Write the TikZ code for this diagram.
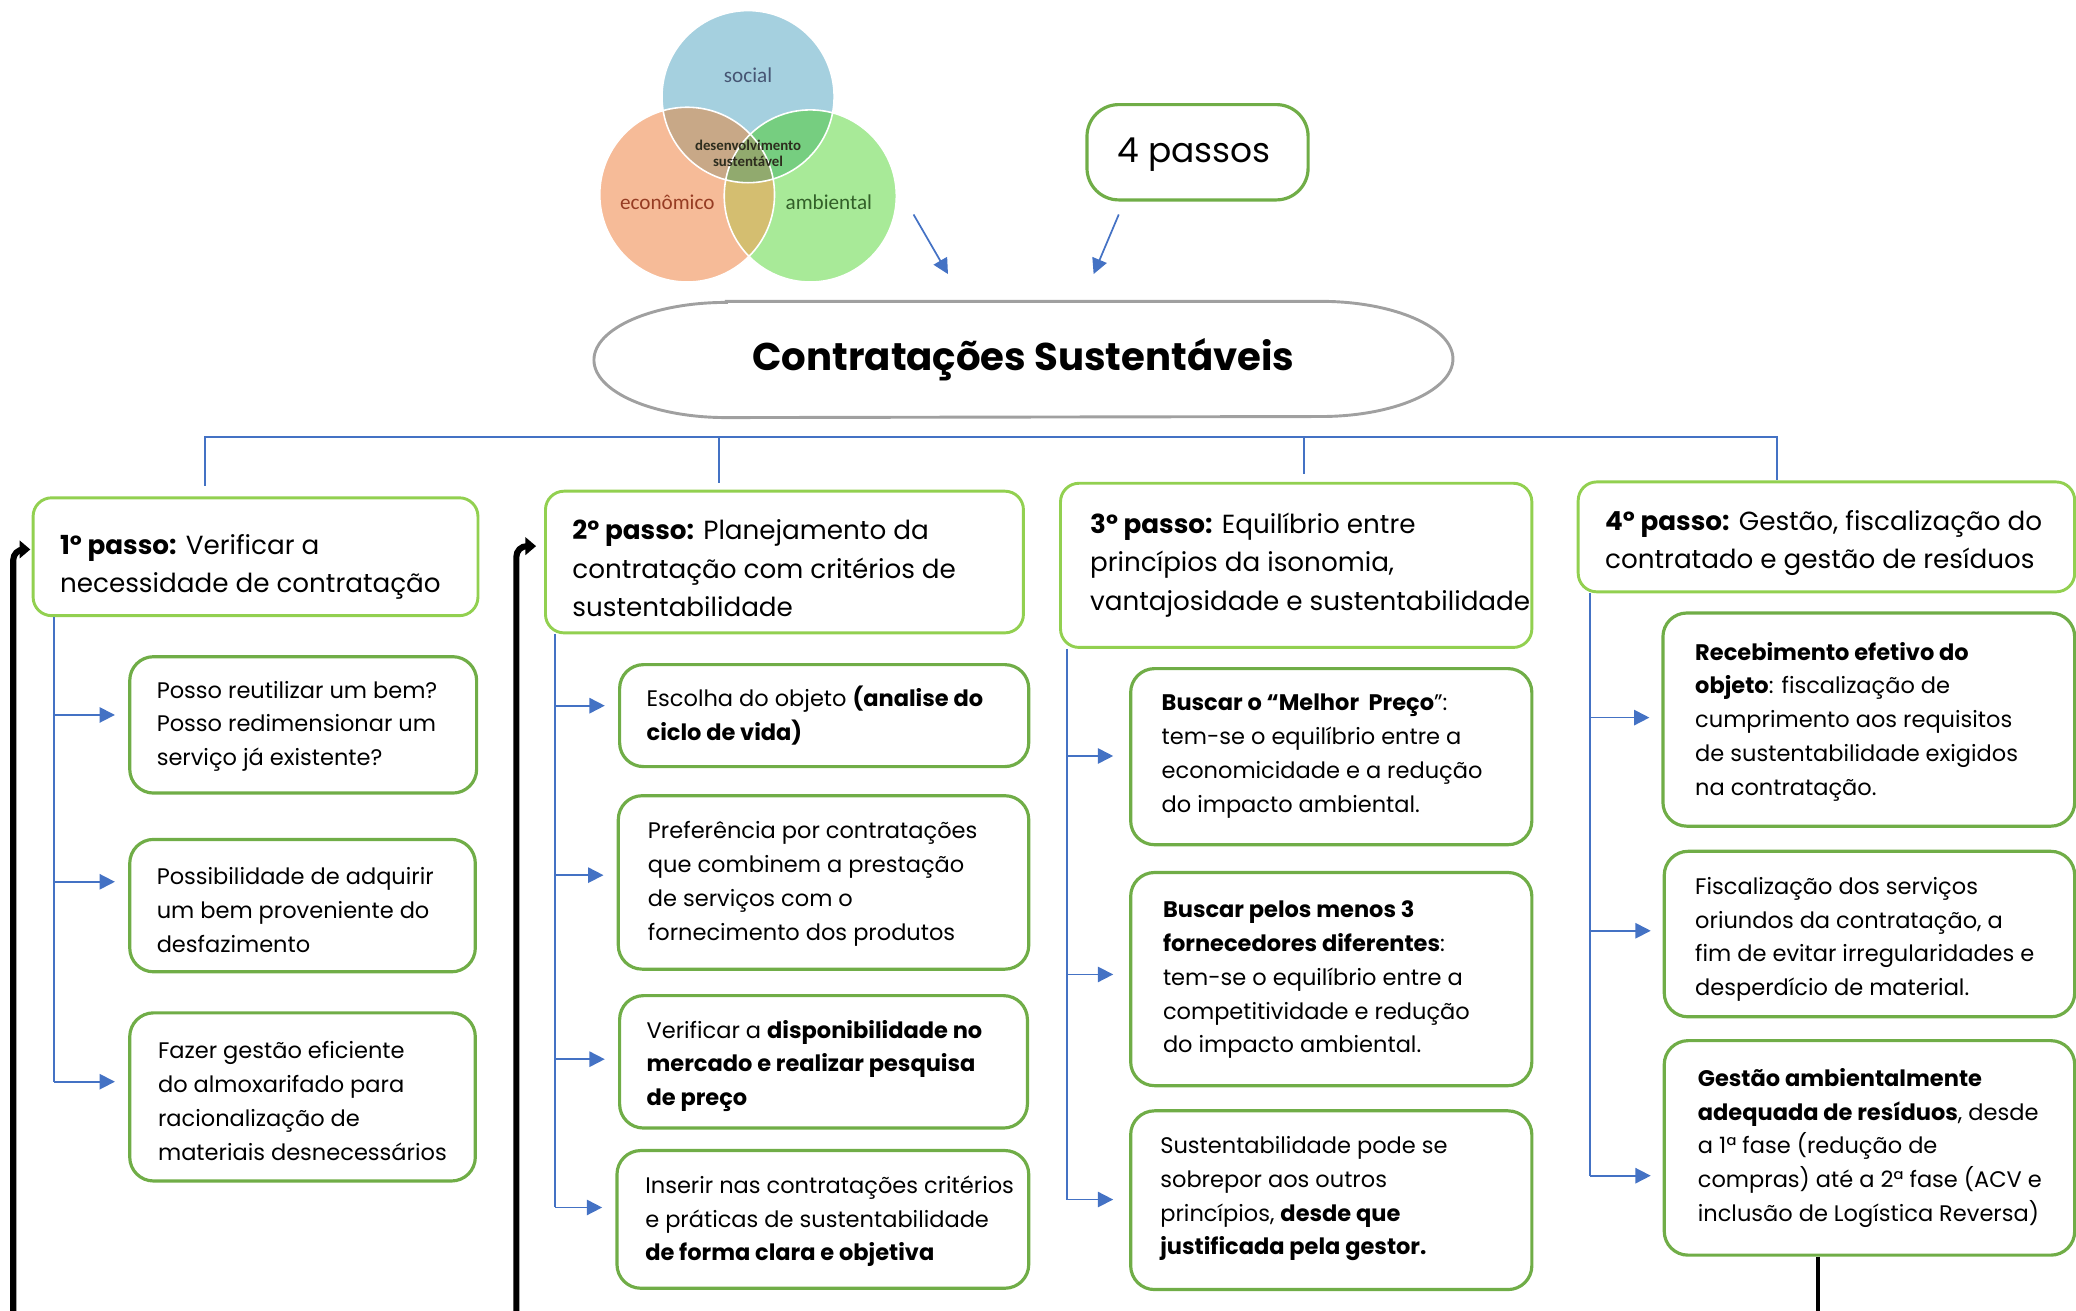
\documentclass[tikz,border=0pt]{standalone}
\usepackage{fontspec}
\setmainfont{Poppins}
\newfontfamily\vennfont{Carlito}
\usetikzlibrary{arrows.meta}
\definecolor{hdrgreen}{HTML}{92D050}
\definecolor{subgreen}{HTML}{70AD47}
\definecolor{lineblue}{HTML}{4472C4}
\definecolor{ellgray}{HTML}{A0A0A0}
\definecolor{socialc}{RGB}{165,208,223}
\definecolor{econc}{RGB}{246,187,152}
\definecolor{ambc}{RGB}{168,234,152}
\definecolor{sec}{RGB}{200,168,135}
\definecolor{sac}{RGB}{118,206,128}
\definecolor{eac}{RGB}{212,190,112}
\definecolor{allc}{RGB}{145,170,110}
\definecolor{socialtxt}{RGB}{70,85,115}
\definecolor{econtxt}{RGB}{150,60,35}
\definecolor{ambtxt}{RGB}{50,95,40}
\begin{document}
\begin{tikzpicture}[x=0.5pt,y=-0.5pt,
  hdr/.style={draw=hdrgreen, line width=1.1pt, rounded corners=7pt, inner sep=0pt},
  subb/.style={draw=subgreen, line width=1.2pt, rounded corners=9pt, inner sep=0pt},
  txtsub/.style={inner sep=0pt, anchor=west, align=left, yshift=-1pt, font=\fontsize{8.5}{12.75}\selectfont},
  txthdr/.style={inner sep=0pt, anchor=west, align=left, yshift=-1.4pt, font=\fontsize{9.9}{14.5}\selectfont},
  bl/.style={draw=lineblue, line width=0.65pt},
  barr/.style={bl, -{Triangle[length=5.8pt,width=5.8pt]}},
  backarrow/.style={line width=2.3pt, rounded corners=4pt, -{Triangle[length=4pt,width=6.5pt]}},
  vlab/.style={font=\vennfont\fontsize{8}{9}\selectfont, inner sep=0pt}]
\useasboundingbox (0,0) rectangle (1568,990);
\clip (0,0) rectangle (1568,990);

% ---------- Venn diagram ----------
\coordinate (cs) at (565,73);
\coordinate (ce) at (519,147);
\coordinate (ca) at (612,148);
\fill[socialc] (cs) circle[radius=32.5pt];
\fill[econc] (ce) circle[radius=33pt];
\fill[ambc] (ca) circle[radius=32.5pt];
\begin{scope}\clip (cs) circle[radius=32.5pt]; \fill[sec] (ce) circle[radius=33pt];\end{scope}
\begin{scope}\clip (cs) circle[radius=32.5pt]; \fill[sac] (ca) circle[radius=32.5pt];\end{scope}
\begin{scope}\clip (ce) circle[radius=33pt]; \fill[eac] (ca) circle[radius=32.5pt];\end{scope}
\begin{scope}\clip (cs) circle[radius=32.5pt]; \clip (ce) circle[radius=33pt]; \fill[allc] (ca) circle[radius=32.5pt];\end{scope}
\draw[white, line width=0.6pt] (cs) circle[radius=32.5pt] (ce) circle[radius=33pt] (ca) circle[radius=32.5pt];
\node[vlab, text=socialtxt] (lsocial) at (565,57) {social};
\node[vlab, text=econtxt] (lecon) at (504,153) {econômico};
\node[vlab, text=ambtxt] (lamb) at (626,153) {ambiental};
\node[font=\vennfont\bfseries\fontsize{5.6}{6}\selectfont, align=center, inner sep=0pt, text={rgb,255:red,45;green,45;blue,30}] (ldes) at (565,116) {desenvolvimento\\sustentável};

% ---------- 4 passos ----------
\node[draw=subgreen, line width=1.2pt, rounded corners=12pt, minimum width=83.5pt, minimum height=36pt, inner sep=0pt] (p4) at (904.5,115) {};
\node[inner sep=0pt, font=\fontsize{13}{15}\selectfont] (tp4) at (902,117) {4 passos};

% ---------- title ----------
\node[minimum width=324pt, minimum height=43.5pt, inner sep=0pt, font=\bfseries\fontsize{14.6}{17}\selectfont] (title) at (773,271.5) {Contratações Sustentáveis};
\draw[ellgray, line width=1.1pt] ([xshift=50pt]title.north west) -- ([xshift=-50pt]title.north east)
  arc[start angle=90, end angle=-90, x radius=50pt, y radius=21.75pt]
  -- ([xshift=50pt]title.south west)
  arc[start angle=270, end angle=90, x radius=50pt, y radius=21.75pt] -- cycle;

\coordinate (va) at (690,162); \coordinate (vb) at (716,207);
\coordinate (pa) at (845,162); \coordinate (pb) at (826,207);
\draw[barr] (va) -- (vb);
\draw[barr] (pa) -- (pb);

% ---------- header boxes ----------
\node[hdr, minimum width=168pt, minimum height=44.5pt] (h1) at (193,420.5) {};
\node[hdr, minimum width=180.5pt, minimum height=53.5pt] (h2) at (592.5,424.5) {};
\node[hdr, minimum width=178pt, minimum height=62pt] (h3) at (979,427) {};
\node[hdr, minimum width=187.5pt, minimum height=41.5pt] (h4) at (1379.5,405.5) {};
\node[txthdr] (th1) at (45,425.5) {\textbf{1º passo:} Verificar a\\necessidade de contratação};
\node[txthdr] (th2) at (432,426.5) {\textbf{2º passo:} Planejamento da\\contratação com critérios de\\sustentabilidade};
\node[txthdr] (th3) at (823,424) {\textbf{3º passo:} Equilíbrio entre\\princípios da isonomia,\\vantajosidade e sustentabilidade};
\node[txthdr] (th4) at (1212,407.5) {\textbf{4º passo:} Gestão, fiscalização do\\contratado e gestão de resíduos};

% ---------- sub boxes ----------
\node[subb, minimum width=131pt, minimum height=51.5pt] (s1a) at (229,547.5) {};
\node[subb, minimum width=130.5pt, minimum height=50pt] (s1b) at (228.5,684) {};
\node[subb, minimum width=130.5pt, minimum height=63.5pt] (s1c) at (228.5,828.5) {};
\node[subb, minimum width=154.5pt, minimum height=38.5pt] (s2a) at (622.5,540.5) {};
\node[subb, minimum width=155pt, minimum height=65.5pt] (s2b) at (622,666.5) {};
\node[subb, minimum width=154pt, minimum height=50pt] (s2c) at (622,802) {};
\node[subb, minimum width=155.5pt, minimum height=52pt] (s2d) at (621.5,921) {};
\node[subb, minimum width=151.5pt, minimum height=66.5pt] (s3a) at (1005.5,571.5) {};
\node[subb, minimum width=151.5pt, minimum height=80.5pt] (s3b) at (1005.5,739.5) {};
\node[subb, minimum width=151.5pt, minimum height=67.5pt] (s3c) at (1005.5,906.5) {};
\node[subb, minimum width=155.5pt, minimum height=80.5pt] (s4a) at (1411.5,543.5) {};
\node[subb, minimum width=155pt, minimum height=62.5pt] (s4b) at (1412,705.5) {};
\node[subb, minimum width=155pt, minimum height=81pt] (s4c) at (1412,867) {};

\node[txtsub] (ts1a) at (118,546.5) {Posso reutilizar um bem?\\Posso redimensionar um\\serviço já existente?};
\node[txtsub] (ts1b) at (118,685.5) {Possibilidade de adquirir\\um bem proveniente do\\desfazimento};
\node[txtsub] (ts1c) at (119,829.5) {Fazer gestão eficiente\\do almoxarifado para\\racionalização de\\materiais desnecessários};
\node[txtsub] (ts2a) at (488,538.5) {Escolha do objeto \textbf{(analise do}\\\textbf{ciclo de vida)}};
\node[txtsub] (ts2b) at (489,665.5) {Preferência por contratações\\que combinem a prestação\\de serviços com o\\fornecimento dos produtos};
\node[txtsub] (ts2c) at (488,803) {Verificar a \textbf{disponibilidade no}\\\textbf{mercado e realizar pesquisa}\\\textbf{de preço}};
\node[txtsub] (ts2d) at (487,920.5) {Inserir nas contratações critérios\\e práticas de sustentabilidade\\\textbf{de forma clara e objetiva}};
\node[txtsub] (ts3a) at (877,569) {\textbf{Buscar o “Melhor~~Preço}”:\\tem-se o equilíbrio entre a\\economicidade e a redução\\do impacto ambiental.};
\node[txtsub] (ts3b) at (878,738) {\textbf{Buscar pelos menos 3}\\\textbf{fornecedores diferentes}:\\tem-se o equilíbrio entre a\\competitividade e redução\\do impacto ambiental.};
\node[txtsub] (ts3c) at (876,903.5) {Sustentabilidade pode se\\sobrepor aos outros\\princípios, \textbf{desde que}\\\textbf{justificada pela gestor.}};
\node[txtsub] (ts4a) at (1280,543) {\textbf{Recebimento efetivo do}\\\textbf{objeto}: fiscalização de\\cumprimento aos requisitos\\de sustentabilidade exigidos\\na contratação.};
\node[txtsub] (ts4b) at (1280,707.5) {Fiscalização dos serviços\\oriundos da contratação, a\\fim de evitar irregularidades e\\desperdício de material.};
\node[txtsub] (ts4c) at (1282,865) {\textbf{Gestão ambientalmente}\\\textbf{adequada de resíduos}, desde\\a 1ª fase (redução de\\compras) até a 2ª fase (ACV e\\inclusão de Logística Reversa)};

% ---------- top tree ----------
\coordinate (t1) at (155,330); \coordinate (t2) at (543,330);
\coordinate (t3) at (985,330); \coordinate (t4) at (1342,330);
\draw[bl, shorten <=4pt] (t1 |- h1.north) -- (t1) -- (t4) -- (t4 |- h4.north);
\draw[bl, shorten >=2.5pt] (t2) -- (t2 |- h2.north);
\draw[bl, shorten >=3pt] (t3) -- (t3 |- h3.north);

% ---------- column spines ----------
\coordinate (k1a) at (41,540); \coordinate (k1b) at (41,666); \coordinate (k1c) at (41,817);
\draw[bl] (h1.south -| k1a) -- (k1c);
\draw[barr, shorten >=5pt] (k1a) -- (k1a -| s1a.west);
\draw[barr, shorten >=5pt] (k1b) -- (k1b -| s1b.west);
\draw[barr, shorten >=5pt] (k1c) -- (k1c -| s1c.west);

\coordinate (k2a) at (419,533); \coordinate (k2b) at (419,661); \coordinate (k2c) at (419,800); \coordinate (k2d) at (419,912);
\draw[bl] (h2.south -| k2a) -- (k2d);
\draw[barr, shorten >=5pt] (k2a) -- (k2a -| s2a.west);
\draw[barr, shorten >=5pt] (k2b) -- (k2b -| s2b.west);
\draw[barr, shorten >=5pt] (k2c) -- (k2c -| s2c.west);
\draw[barr, shorten >=5pt] (k2d) -- (k2d -| s2d.west);

\coordinate (k3a) at (806,571); \coordinate (k3b) at (806,736); \coordinate (k3c) at (806,906);
\draw[bl] (h3.south -| k3a) -- (k3c);
\draw[barr, shorten >=6pt] (k3a) -- (k3a -| s3a.west);
\draw[barr, shorten >=6pt] (k3b) -- (k3b -| s3b.west);
\draw[barr, shorten >=6pt] (k3c) -- (k3c -| s3c.west);

\coordinate (k4a) at (1201,542); \coordinate (k4b) at (1201,703); \coordinate (k4c) at (1201,888);
\draw[bl] (h4.south -| k4a) -- (k4c);
\draw[barr, shorten >=4.5pt] (k4a) -- (k4a -| s4a.west);
\draw[barr, shorten >=4.5pt] (k4b) -- (k4b -| s4b.west);
\draw[barr, shorten >=4.5pt] (k4c) -- (k4c -| s4c.west);

% ---------- black return lines ----------
\coordinate (b1) at (10,1000); \coordinate (b2) at (390,1000); \coordinate (b4) at (1373,1000);
\draw[backarrow, shorten >=0.5pt] (b1) |- ([yshift=2.75pt]h1.west);
\draw[backarrow, shorten >=3pt] (b2) |- ([yshift=6pt]h2.west);
\draw[line width=1.3pt] (s4c.south -| b4) -- (b4);
\end{tikzpicture}
\end{document}
